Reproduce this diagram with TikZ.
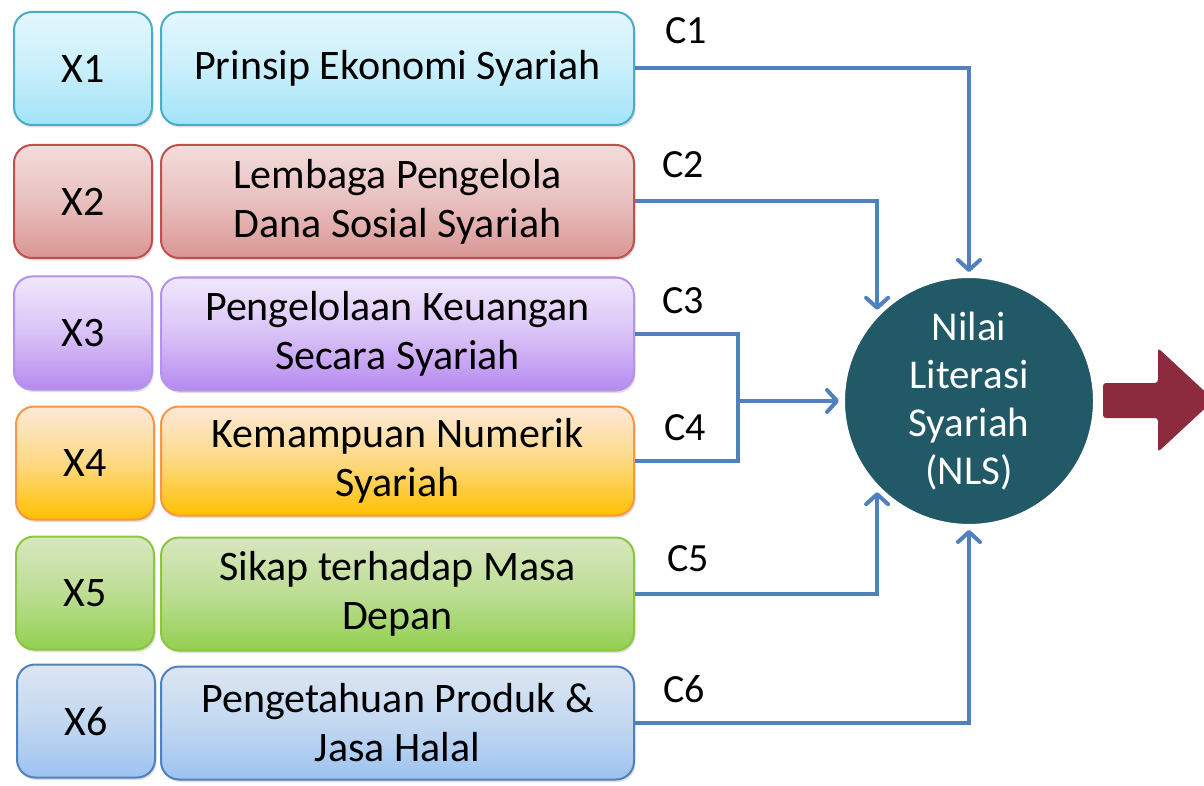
\documentclass[tikz,border=0pt]{standalone}
\usepackage{fontspec}
\setmainfont{Carlito}
\usetikzlibrary{arrows.meta,shadows,shapes.geometric}
\definecolor{conn}{HTML}{4F81BD}
\definecolor{nlsfill}{HTML}{215967}
\definecolor{outarrow}{HTML}{8C2A3E}
\definecolor{aT}{HTML}{E3F7FD}\definecolor{aB}{HTML}{A2E3F8}\definecolor{aD}{HTML}{4BACC6}
\definecolor{bT}{HTML}{F2DCDB}\definecolor{bB}{HTML}{D99694}\definecolor{bD}{HTML}{C0504D}
\definecolor{cT}{HTML}{F0E8FB}\definecolor{cB}{HTML}{B68AF0}\definecolor{cD}{HTML}{B393EC}
\definecolor{dT}{HTML}{FDE9D9}\definecolor{dB}{HTML}{FFC000}\definecolor{dD}{HTML}{F79646}
\definecolor{eT}{HTML}{D9E6C0}\definecolor{eB}{HTML}{92D050}\definecolor{eD}{HTML}{8CC63F}
\definecolor{fT}{HTML}{DCE6F2}\definecolor{fB}{HTML}{9DC3F0}\definecolor{fD}{HTML}{4F81BD}
\tikzset{
  boxbase/.style={rounded corners=18pt, line width=2pt, align=center, inner sep=0pt,
    minimum height=113pt, text=black, font=\fontsize{42}{49}\selectfont,
    drop shadow={opacity=0.25, shadow xshift=1.5pt, shadow yshift=-2.5pt}},
  xbox/.style={boxbase, minimum width=138pt},
  tbox/.style={boxbase, minimum width=473pt},
  pal/.style={draw=#1D, top color=#1T, bottom color=#1B, middle color=#1T!60!#1B},
  conline/.style={draw=conn, line width=4pt},
  conarrow/.style={conline, -{Straight Barb[length=10pt,width=22pt,line width=4pt,line cap=round,round]}},
  clabel/.style={font=\fontsize{40}{48}\selectfont, text=black, inner sep=0pt},
}
\begin{document}
\begin{tikzpicture}[x=1pt,y=-1pt]
\useasboundingbox (0,0) rectangle (1204,786);
\fill[white] (0,0) rectangle (1204,786);

% left boxes
\node[xbox, pal=a] (x1) at (83,68.5) {X1};
\node[tbox, pal=a] (t1) at (397.5,68.5) {Prinsip Ekonomi Syariah};
\node[xbox, pal=b] (x2) at (83,201.5) {X2};
\node[tbox, pal=b] (t2) at (397.5,201.5) {Lembaga Pengelola\\Dana Sosial Syariah};
\node[xbox, pal=c] (x3) at (83,333) {X3};
\node[tbox, pal=c] (t3) at (397.5,334) {Pengelolaan Keuangan\\Secara Syariah};
\node[xbox, pal=d] (x4) at (85,463) {X4};
\node[tbox, pal=d, minimum height=109pt] (t4) at (397.5,461) {Kemampuan Numerik\\Syariah};
\node[xbox, pal=e] (x5) at (85,593) {X5};
\node[tbox, pal=e] (t5) at (397.5,594) {Sikap terhadap Masa\\Depan};
\node[xbox, pal=f] (x6) at (86,721) {X6};
\node[tbox, pal=f] (t6) at (397.5,723) {Pengetahuan Produk \&\\Jasa Halal};

% central ellipse
\node[ellipse, minimum width=254pt, minimum height=234pt, inner sep=0pt,
      fill=nlsfill, draw=white, line width=6pt, text=white, align=center,
      font=\fontsize{41}{48}\selectfont,
      drop shadow={opacity=0.3, shadow xshift=1.5pt, shadow yshift=-2.5pt}]
      (nls) at (969,401) {Nilai\\Literasi\\Syariah\\(NLS)};

% connectors
\coordinate (j) at (738,401);
\draw[conarrow] (t1.east) -| (nls.north);
\draw[conarrow] (t2.east) -| (nls.north west);
\draw[conline] (t3.east) -- (t3.east -| j) -- (t4.east -| j) -- (t4.east);
\draw[conarrow] (j) -- (nls.west);
\draw[conarrow] (t5.east) -| (nls.south west);
\draw[conarrow] (t6.east) -| (nls.south);

% labels
\node[clabel] (c1) at (686,31) {C1};
\node[clabel] (c2) at (683,165) {C2};
\node[clabel] (c3) at (683,301) {C3};
\node[clabel] (c4) at (685,428) {C4};
\node[clabel] (c5) at (688,559) {C5};
\node[clabel] (c6) at (684,689) {C6};

% output arrow
\fill[outarrow, rounded corners=3pt] (1103,383) -- (1158,383) -- (1158,348) -- (1214,400)
  -- (1158,452) -- (1158,418) -- (1103,418) -- cycle;
\end{tikzpicture}
\end{document}
